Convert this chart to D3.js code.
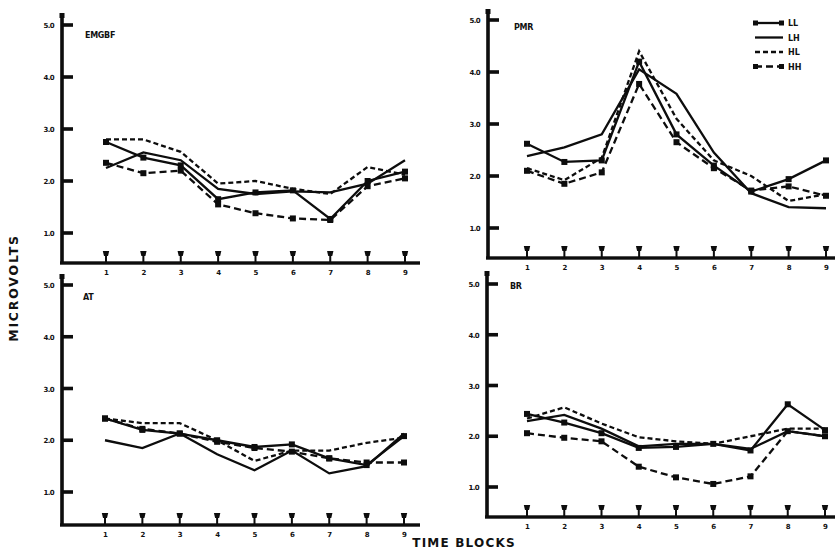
<!DOCTYPE html>
<html><head><meta charset="utf-8">
<script src="https://cdn.jsdelivr.net/npm/d3@7/dist/d3.min.js"></script>
<style>
html,body{margin:0;padding:0;background:#fff;}
svg{display:block;}
text{font-family:"DejaVu Sans",sans-serif;fill:#111;}
</style></head>
<body>
<svg id="chart" width="835" height="554"></svg>
<script>
// ---- data ----
const blocks = [1,2,3,4,5,6,7,8,9];
const blockLabels = ["1","2","3","4","5","6","7","8","9"];
const yTicks = [1,2,3,4,5];
const yTickLabels = ["1.0","2.0","3.0","4.0","5.0"];
const seriesNames = ["LL","LH","HL","HH"];
const panelNames = ["EMGBF","PMR","AT","BR"];

const emgbfLL = [2.75,2.45,2.30,1.65,1.78,1.82,1.27,2.00,2.18];
const emgbfLH = [2.25,2.55,2.40,1.85,1.75,1.80,1.78,1.95,2.40];
const emgbfHL = [2.80,2.80,2.56,1.95,2.00,1.85,1.75,2.27,2.12];
const emgbfHH = [2.35,2.15,2.20,1.55,1.38,1.28,1.25,1.90,2.05];

const pmrLL = [2.62,2.27,2.30,4.20,2.80,2.20,1.70,1.94,2.30];
const pmrLH = [2.38,2.55,2.80,4.05,3.58,2.45,1.67,1.40,1.38];
const pmrHL = [2.15,1.92,2.35,4.40,3.10,2.30,2.00,1.52,1.65];
const pmrHH = [2.10,1.85,2.07,3.77,2.65,2.15,1.72,1.80,1.62];

const atLL = [2.42,2.20,2.13,2.00,1.87,1.92,1.65,1.52,2.08];
const atLH = [2.00,1.85,2.13,1.73,1.42,1.80,1.36,1.50,2.13];
const atHL = [2.42,2.33,2.33,2.00,1.60,1.80,1.80,1.95,2.05];
const atHH = [2.42,2.22,2.13,1.97,1.85,1.78,1.65,1.57,1.57];

const brLL = [2.44,2.27,2.06,1.77,1.79,1.85,1.72,2.63,2.12];
const brLH = [2.30,2.42,2.15,1.80,1.85,1.85,1.75,2.10,2.00];
const brHL = [2.35,2.57,2.25,1.98,1.90,1.85,2.00,2.15,2.15];
const brHH = [2.06,1.97,1.90,1.40,1.19,1.06,1.21,2.10,2.00];

const panelSeries = [
  [emgbfLL, emgbfLH, emgbfHL, emgbfHH],
  [pmrLL, pmrLH, pmrHL, pmrHH],
  [atLL, atLH, atHL, atHH],
  [brLL, brLH, brHL, brHH]
];

// ---- layout / style ----
const panels = [
  {ax:62,  top:14,  base:263, x1:106, x9:405, xEnd:420, y1:233, y5:25,  lx:85,  ly:38},
  {ax:488, top:10,  base:258, x1:527, x9:826, xEnd:835, y1:228, y5:20,  lx:514, ly:30},
  {ax:62,  top:275, base:525, x1:105, x9:404, xEnd:420, y1:492, y5:285, lx:83,  ly:300},
  {ax:487, top:272, base:517, x1:527, x9:825, xEnd:835, y1:487, y5:284, lx:510, ly:289}
];
const styles = {
  LL:{dash:null, marker:true},
  LH:{dash:null, marker:false},
  HL:{dash:"5,3", marker:false},
  HH:{dash:"7,4", marker:true}
};

const svg = d3.select("#chart");
const ink = "#0d0d0d";

panels.forEach((p, pi) => {
  const g = svg.append("g");
  const x = d3.scaleLinear().domain([1,9]).range([p.x1, p.x9]);
  const y = d3.scaleLinear().domain([1,5]).range([p.y1, p.y5]);

  // y axis
  g.append("rect").attr("x",p.ax-1.8).attr("y",p.top).attr("width",3.6).attr("height",p.base-p.top)
    .attr("fill",ink);
  g.append("rect").attr("x",p.ax-2.5).attr("y",p.top-1).attr("width",5).attr("height",5).attr("fill",ink);
  g.selectAll(null).data(yTicks).enter().append("rect")
    .attr("x",p.ax).attr("y",d=>y(d)-1.8).attr("width",11).attr("height",3.6)
    .attr("fill",ink);
  g.selectAll(null).data(yTicks).enter().append("text")
    .attr("x",p.ax-8).attr("y",d=>y(d)+3).attr("text-anchor","end")
    .attr("font-size",7).attr("font-weight","bold").attr("letter-spacing",-0.6)
    .text((d,i)=>yTickLabels[i]);

  // x axis
  g.append("rect").attr("x",p.ax-2).attr("y",p.base-1.7).attr("width",p.xEnd-p.ax+2).attr("height",3.4)
    .attr("fill",ink);
  const xAxis = d3.axisBottom(x).tickValues(blocks).tickSize(0).tickPadding(7)
    .tickFormat((d,i)=>blockLabels[i]);
  const xa = g.append("g").attr("transform",`translate(0,${p.base})`).call(xAxis);
  xa.select(".domain").remove();
  xa.selectAll("text").attr("font-size",7).attr("font-weight","bold").attr("fill",ink)
    .style("font-family","DejaVu Sans, sans-serif");
  // T-shaped markers above axis
  blocks.forEach(b=>{
    const cx = x(b);
    g.append("path")
      .attr("d",`M${cx-3.2},${p.base-12} L${cx+3.2},${p.base-12} L${cx+2},${p.base-7} L${cx-2},${p.base-7} Z`)
      .attr("fill",ink);
    g.append("rect").attr("x",cx-1).attr("y",p.base-8).attr("width",2).attr("height",8).attr("fill",ink);
  });

  // panel label
  g.append("text").attr("x",p.lx).attr("y",p.ly).attr("font-size",8).attr("font-weight","bold")
    .attr("letter-spacing",-0.3).text(panelNames[pi]);

  // series
  const line = d3.line().x((d,i)=>x(blocks[i])).y(d=>y(d));
  panelSeries[pi].forEach((vals, si)=>{
    const st = styles[seriesNames[si]];
    g.append("path").attr("d",line(vals)).attr("fill","none").attr("stroke",ink)
      .attr("stroke-width",2.3).attr("stroke-dasharray",st.dash);
    if (st.marker) {
      g.selectAll(null).data(vals).enter().append("rect")
        .attr("x",(d,i)=>x(blocks[i])-3).attr("y",d=>y(d)-3)
        .attr("width",6).attr("height",6).attr("fill",ink);
    }
  });
});

// legend (top right)
const lg = svg.append("g");
seriesNames.forEach((n,i)=>{
  const yy = 23 + i*14.5;
  const st = styles[n];
  lg.append("line").attr("x1",755).attr("x2",783).attr("y1",yy).attr("y2",yy)
    .attr("stroke",ink).attr("stroke-width",2.3).attr("stroke-dasharray",st.dash);
  if (st.marker) {
    lg.append("rect").attr("x",753).attr("y",yy-2.5).attr("width",5).attr("height",5).attr("fill",ink);
    lg.append("rect").attr("x",779).attr("y",yy-2.5).attr("width",5).attr("height",5).attr("fill",ink);
  }
  lg.append("text").attr("x",788).attr("y",yy+3).attr("font-size",8).attr("font-weight","bold").text(n);
});

// axis titles
svg.append("text").attr("transform","translate(18,288) rotate(-90)").attr("text-anchor","middle")
  .attr("font-size",12.5).attr("font-weight","bold").attr("letter-spacing",1.8).text("MICROVOLTS");
svg.append("text").attr("x",464).attr("y",547).attr("text-anchor","middle")
  .attr("font-size",12).attr("font-weight","bold").attr("letter-spacing",1.2).text("TIME  BLOCKS");
</script>
</body></html>
